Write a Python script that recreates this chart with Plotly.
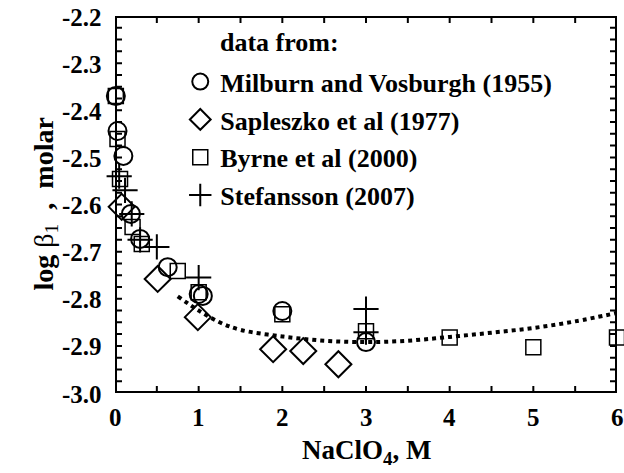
import plotly.graph_objects as go

# Milburn and Vosburgh (1955)
mv_x = [0.01, 0.03, 0.10, 0.19, 0.30, 0.63, 1.00, 1.05, 2.00, 3.00]
mv_y = [-2.370, -2.444, -2.497, -2.620, -2.673, -2.733, -2.790, -2.794, -2.826, -2.892]
# Sapleszko et al (1977)
sp_x = [0.08, 0.51, 0.99, 1.89, 2.25, 2.67]
sp_y = [-2.605, -2.758, -2.839, -2.907, -2.911, -2.939]
# Byrne et al (2000)
by_x = [0.01, 0.03, 0.06, 0.21, 0.32, 0.75, 1.00, 2.00, 3.00, 4.00, 5.00, 6.00]
by_y = [-2.370, -2.461, -2.546, -2.648, -2.684, -2.741, -2.786, -2.833, -2.869, -2.882, -2.903, -2.882]
# Stefansson (2007)
st_x = [0.05, 0.12, 0.20, 0.30, 0.50, 1.00, 3.00, 3.00]
st_y = [-2.540, -2.570, -2.620, -2.675, -2.690, -2.755, -2.822, -2.871]
# dotted fit curve
fit_x = [0.75, 1.0, 1.25, 1.5, 2.0, 2.5, 3.0, 3.5, 4.0, 4.5, 5.0, 5.5, 6.0]
fit_y = [-2.795, -2.825, -2.850, -2.866, -2.880, -2.889, -2.892, -2.889, -2.881, -2.872, -2.862, -2.848, -2.830]

X_RANGE = [0, 6]
Y_RANGE = [-3.0, -2.2]
x_labels = [0, 1, 2, 3, 4, 5, 6]
y_labels = ["-3.0", "-2.9", "-2.8", "-2.7", "-2.6", "-2.5", "-2.4", "-2.3", "-2.2"]
x_minor = [i * 0.5 for i in range(13)]
y_minor = [round(-3.0 + i * 0.025, 3) for i in range(33)]

FONT = "Liberation Serif"
W, H = 624, 473
M = dict(l=115, r=7, t=16, b=80)
plot_w = W - M["l"] - M["r"]
plot_h = H - M["t"] - M["b"]
px_x = (X_RANGE[1] - X_RANGE[0]) / plot_w   # data units per pixel
px_y = (Y_RANGE[1] - Y_RANGE[0]) / plot_h


def rect(x0, x1, y0, y1):
    return [x0, x1, x1, x0, x0, None], [y0, y0, y1, y1, y0, None]


fig = go.Figure()

# frame: filled black rectangle with a white inner rectangle
ox, oy = rect(X_RANGE[0] - 2 * px_x, X_RANGE[1] + 2 * px_x, Y_RANGE[0] - 2 * px_y, Y_RANGE[1] + 2 * px_y)
ix, iy = rect(X_RANGE[0] + 2 * px_x, X_RANGE[1] - 2 * px_x, Y_RANGE[0] + 2 * px_y, Y_RANGE[1] - 2 * px_y)
fig.add_trace(go.Scatter(x=ox, y=oy, mode="lines", fill="toself", fillcolor="black",
                         line=dict(width=0, color="black"), showlegend=False, hoverinfo="skip",
                         cliponaxis=False))
fig.add_trace(go.Scatter(x=ix, y=iy, mode="lines", fill="toself", fillcolor="white",
                         line=dict(width=0, color="white"), showlegend=False, hoverinfo="skip",
                         cliponaxis=False))

# inside tick marks as small filled rectangles
tx, ty = [], []
for v in x_minor:
    a, b = rect(v - 1 * px_x, v + 1 * px_x, Y_RANGE[0], Y_RANGE[0] + 7 * px_y)
    tx += a; ty += b
    a, b = rect(v - 1 * px_x, v + 1 * px_x, Y_RANGE[1] - 7 * px_y, Y_RANGE[1])
    tx += a; ty += b
for v in y_minor:
    a, b = rect(X_RANGE[0], X_RANGE[0] + 7 * px_x, v - 1 * px_y, v + 1 * px_y)
    tx += a; ty += b
    a, b = rect(X_RANGE[1] - 7 * px_x, X_RANGE[1], v - 1 * px_y, v + 1 * px_y)
    tx += a; ty += b
fig.add_trace(go.Scatter(x=tx, y=ty, mode="lines", fill="toself", fillcolor="black",
                         line=dict(width=0, color="black"), showlegend=False, hoverinfo="skip",
                         connectgaps=False, cliponaxis=False))

fig.add_trace(go.Scatter(x=fit_x, y=fit_y, mode="lines",
                         line=dict(color="black", width=4, dash="dot", shape="spline"),
                         showlegend=False, hoverinfo="skip"))

fig.add_trace(go.Scatter(x=mv_x, y=mv_y, mode="markers", name="Milburn and Vosburgh (1955)", legendgroup="a",
                         marker=dict(symbol="circle-open", size=18, color="black", line=dict(width=2, color="black")),
                         cliponaxis=False))
fig.add_trace(go.Scatter(x=sp_x, y=sp_y, mode="markers", name="Sapleszko et al (1977)", legendgroup="b",
                         marker=dict(symbol="diamond-open", size=20, color="black", line=dict(width=2, color="black")),
                         cliponaxis=False))
fig.add_trace(go.Scatter(x=by_x, y=by_y, mode="markers", name="Byrne et al (2000)", legendgroup="c",
                         marker=dict(symbol="square-open", size=15, color="black", line=dict(width=1.5, color="black")),
                         cliponaxis=False))
fig.add_trace(go.Scatter(x=st_x, y=st_y, mode="markers", name="Stefansson (2007)", legendgroup="d",
                         marker=dict(symbol="cross-thin-open", size=18, color="black", line=dict(width=2, color="black")),
                         cliponaxis=False))

# tick labels
for v in x_labels:
    fig.add_annotation(text="<b>%d</b>" % v, x=v, xref="x", y=0, yref="paper", yanchor="top",
                       yshift=-9, showarrow=False, font=dict(family=FONT, size=25, color="black"))
for s in y_labels:
    fig.add_annotation(text="<b>%s</b>" % s, x=0, xref="paper", y=float(s), yref="y", xanchor="right",
                       xshift=-11, yshift=-1, showarrow=False, font=dict(family=FONT, size=25, color="black"))

# axis titles
fig.add_annotation(text="<b>NaClO<sub>4</sub>, M</b>", x=0.5, xref="paper", y=0, yref="paper",
                   yanchor="top", yshift=-40, showarrow=False, font=dict(family=FONT, size=27, color="black"))
fig.add_annotation(text="<b>log </b>β<sub>1</sub><b>  ,  molar</b>", x=0, xref="paper", y=0.5, yref="paper",
                   xanchor="center", yanchor="middle", xshift=-70, textangle=-90, showarrow=False,
                   font=dict(family=FONT, size=28, color="black"))

fig.add_annotation(text="<b>data from:</b>", xref="paper", yref="paper", x=0.205, y=0.93,
                   xanchor="left", yanchor="middle", showarrow=False,
                   font=dict(family=FONT, size=26, color="black"))

fig.update_layout(
    width=W, height=H,
    margin=M,
    paper_bgcolor="white", plot_bgcolor="white",
    font=dict(family=FONT, color="black"),
    showlegend=True,
    legend=dict(x=0.13, y=0.888, xanchor="left", yanchor="top", bgcolor="rgba(0,0,0,0)",
                font=dict(family=FONT, size=26, color="black", weight="bold"),
                tracegroupgap=1, itemwidth=30),
)
fig.update_xaxes(range=X_RANGE, showline=False, ticks="", showticklabels=False,
                 showgrid=False, zeroline=False)
fig.update_yaxes(range=Y_RANGE, showline=False, ticks="", showticklabels=False,
                 showgrid=False, zeroline=False)

fig.write_html("out.html")
